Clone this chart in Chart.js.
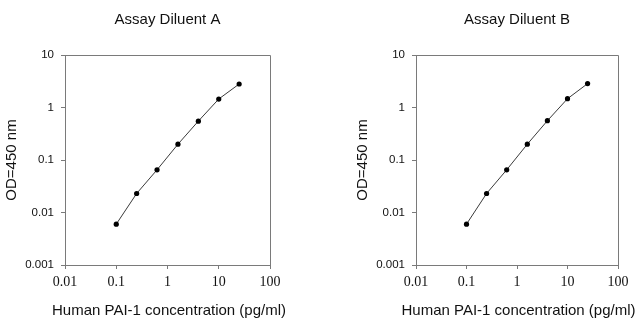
<!DOCTYPE html>
<html>
<head>
<meta charset="utf-8">
<script src="https://cdn.jsdelivr.net/npm/chart.js@4/dist/chart.umd.min.js"></script>
<style>
  body { margin: 0; background: #fff; }
  .wrap { position: relative; width: 640px; height: 325px; }
  canvas { position: absolute; top: 0; }
</style>
</head>
<body>
<div class="wrap">
  <canvas id="chartA" width="320" height="325" style="left:0"></canvas>
  <canvas id="chartB" width="320" height="325" style="left:320px"></canvas>
</div>
<script>
// PAI-1 standard curve, concentration in pg/ml vs OD at 450 nm
const concentration = [0.1, 0.25, 0.625, 1.6, 4, 10, 25];
const odDiluentA = [0.006, 0.023, 0.065, 0.2, 0.55, 1.45, 2.8];
const odDiluentB = [0.006, 0.023, 0.065, 0.2, 0.56, 1.47, 2.85];
const xTicks = [0.01, 0.1, 1, 10, 100];
const yTicks = [0.001, 0.01, 0.1, 1, 10];
const xTitle = 'Human PAI-1 concentration (pg/ml)';

const axisGray = '#7a7a7a';
const sans = "'Liberation Sans', Arial, sans-serif";
const serif = "'Liberation Serif', 'Times New Roman', serif";

// top and right sides of the plot box, plus the x axis title
// (the scale title would be squeezed to the plot width, this one is wider)
const boxPlugin = {
    id: 'box',
    afterDraw(chart) {
        const a = chart.chartArea;
        const ctx = chart.ctx;
        ctx.save();
        ctx.strokeStyle = axisGray;
        ctx.lineWidth = 1;
        ctx.beginPath();
        ctx.moveTo(a.left, a.top + 0.5);
        ctx.lineTo(a.right + 0.5, a.top + 0.5);
        ctx.lineTo(a.right + 0.5, a.bottom);
        ctx.stroke();

        ctx.fillStyle = '#111';
        ctx.font = '15px ' + sans;
        ctx.textAlign = 'center';
        ctx.textBaseline = 'middle';
        ctx.fillText(xTitle, (a.left + a.right) / 2 + 1.5, 311);
        ctx.restore();
    }
};

function makeCurve(id, title, values, padLeft, padRight) {
    new Chart(document.getElementById(id), {
        type: 'line',
        data: {
            datasets: [{
                xAxisID: 'x',
                yAxisID: 'y',
                data: concentration.map((c, i) => ({x: c, y: values[i]})),
                borderColor: '#3a3a3a',
                borderWidth: 1,
                pointRadius: 2.6,
                pointBackgroundColor: '#000',
                pointBorderWidth: 0,
                tension: 0,
            }]
        },
        options: {
            responsive: false,
            animation: false,
            layout: {
                padding: {left: padLeft, right: padRight, top: 0, bottom: 0}
            },
            plugins: {
                legend: {display: false},
                tooltip: {enabled: false},
            },
            scales: {
                // empty top axis, only carries the panel heading centred over the plot
                top: {
                    type: 'linear',
                    position: 'top',
                    min: 0,
                    max: 1,
                    afterFit: s => { s.height = 55; },
                    grid: {display: false},
                    border: {display: false},
                    ticks: {display: false},
                    title: {
                        display: true,
                        text: title,
                        color: '#111',
                        font: {family: sans, size: 15},
                        padding: {top: 11, bottom: 0},
                    },
                },
                x: {
                    type: 'logarithmic',
                    position: 'bottom',
                    min: 0.01,
                    max: 100,
                    afterBuildTicks: s => { s.ticks = xTicks.map(v => ({value: v})); },
                    afterFit: s => { s.height = 60; },
                    grid: {display: true, drawOnChartArea: false, tickLength: 4, color: axisGray},
                    border: {display: true, color: axisGray},
                    ticks: {
                        color: '#111',
                        padding: 5,
                        maxRotation: 0,
                        autoSkip: false,
                        font: {family: serif, size: 14},
                        callback: v => String(v),
                    },
                },
                y: {
                    type: 'logarithmic',
                    min: 0.001,
                    max: 10,
                    afterBuildTicks: s => { s.ticks = yTicks.map(v => ({value: v})); },
                    afterFit: s => { s.width = 65; },
                    grid: {display: true, drawOnChartArea: false, tickLength: 4, color: axisGray},
                    border: {display: true, color: axisGray},
                    ticks: {
                        color: '#111',
                        padding: 7,
                        autoSkip: false,
                        font: {family: sans, size: 11.5},
                        callback: v => String(v),
                    },
                    title: {
                        display: true,
                        text: 'OD=450 nm',
                        color: '#111',
                        font: {family: sans, size: 15},
                        padding: {top: 3, bottom: 0},
                    },
                },
            },
        },
        plugins: [boxPlugin],
    });
}

makeCurve('chartA', 'Assay Diluent A', odDiluentA, 0, 50);
makeCurve('chartB', 'Assay Diluent B', odDiluentB, 31, 22);
</script>
</body>
</html>
